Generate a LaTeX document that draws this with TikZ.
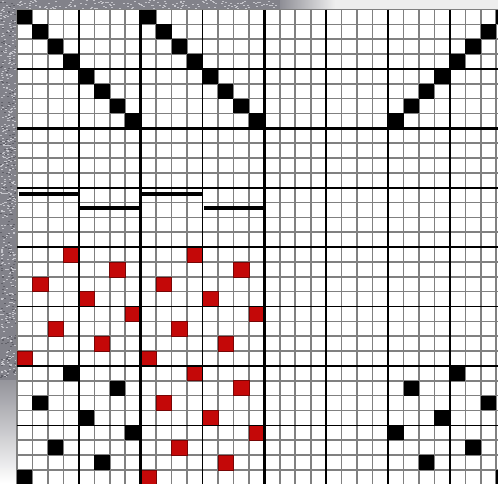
\documentclass[tikz,border=0pt]{standalone}
\usepackage{tikz}
\definecolor{cloth}{RGB}{130,130,138}
\definecolor{clothspeck}{RGB}{196,196,202}
\definecolor{clothdark}{RGB}{96,96,104}
\definecolor{paper}{RGB}{238,238,238}
\definecolor{warpred}{RGB}{196,8,8}
\definecolor{gridgray}{RGB}{128,128,128}
\tikzset{
  minorline/.style={draw=gridgray, line width=1.6pt},
  quarterline/.style={draw=black, line width=1.6pt},
  blockline/.style={draw=black, line width=2.4pt},
  blackcell/.style={fill=black},
  redcell/.style={fill=warpred, draw=warpred!60!black, line width=0.6pt},
  tiebar/.style={draw=black, line width=4.4pt}
}
\begin{document}
\begin{tikzpicture}[x=1pt, y=-1pt]
  \useasboundingbox (0,0) rectangle (498,483);
  \clip (0,0) rectangle (498,483);

  % backdrop round the draft
  \fill[white] (0,0) rectangle (498,483);
  \fill[cloth] (0,0) rectangle (17,380);
  \fill[cloth] (0,0) rectangle (280,9.5);
  \shade[left color=cloth!90!white, right color=paper] (280,0) rectangle (335,9.5);
  \fill[paper] (335,0) rectangle (498,9.5);
  \shade[top color=cloth!85!white, bottom color=white] (0,380) rectangle (17,483);
  \pgfmathsetseed{42}
  \foreach \i in {1,...,420} {
    \pgfmathsetmacro{\sx}{rnd*15}
    \pgfmathsetmacro{\sy}{rnd*377}
    \fill[clothspeck] (\sx,\sy) rectangle ++(2,1);
  }
  \foreach \i in {1,...,200} {
    \pgfmathsetmacro{\sx}{rnd*15}
    \pgfmathsetmacro{\sy}{rnd*377}
    \fill[clothdark] (\sx,\sy) rectangle ++(2,1);
  }
  \foreach \i in {1,...,160} {
    \pgfmathsetmacro{\sx}{17+rnd*260}
    \pgfmathsetmacro{\sy}{rnd*8}
    \fill[clothspeck] (\sx,\sy) rectangle ++(2,1);
  }

  % the draft itself, one unit per cell
  \begin{scope}[shift={(17pt,-9.5pt)}, x=15.46pt, y=-14.85pt]
    \fill[white] (0,0) rectangle (32,32);
    \foreach \k in {0,...,32} {
      \draw[minorline] (\k,0) -- (\k,32);
      \draw[minorline] (0,\k) -- (32,\k);
    }

    % threading
    \foreach \c in {0,...,7} {
      \fill[blackcell] (\c,\c) rectangle ++(1,1);
      \fill[blackcell] (\c+8,\c) rectangle ++(1,1);
      \fill[blackcell] (\c+24,7-\c) rectangle ++(1,1);
    }

    % tie-up bars
    \foreach \c/\r in {0/12.42, 4/13.38, 8/12.42, 12/13.38}
      \draw[tiebar] (\c+0.1,\r) -- (\c+3.95,\r);

    % treadling / drawdown
    \foreach \c/\r in {3/16, 6/17, 1/18, 4/19, 7/20, 2/21, 5/22, 0/23} {
      \fill[redcell] (\c,\r) rectangle ++(1,1);
      \fill[redcell] (\c+8,\r) rectangle ++(1,1);
      \fill[blackcell] (\c,\r+8) rectangle ++(1,1);
      \fill[redcell] (\c+8,\r+8) rectangle ++(1,1);
    }
    \foreach \c/\r in {28/24, 25/25, 30/26, 27/27, 24/28, 29/29, 26/30, 31/31}
      \fill[blackcell] (\c,\r) rectangle ++(1,1);

    % heavier lines every 4 and every 8 cells
    \foreach \k in {4,12,20,28} {
      \draw[quarterline] (\k,0) -- (\k,32);
      \draw[quarterline] (0,\k) -- (32,\k);
    }
    \foreach \k in {8,16,24} {
      \draw[blockline] (\k,0) -- (\k,32);
      \draw[blockline] (0,\k) -- (32,\k);
    }
  \end{scope}
\end{tikzpicture}
\end{document}
